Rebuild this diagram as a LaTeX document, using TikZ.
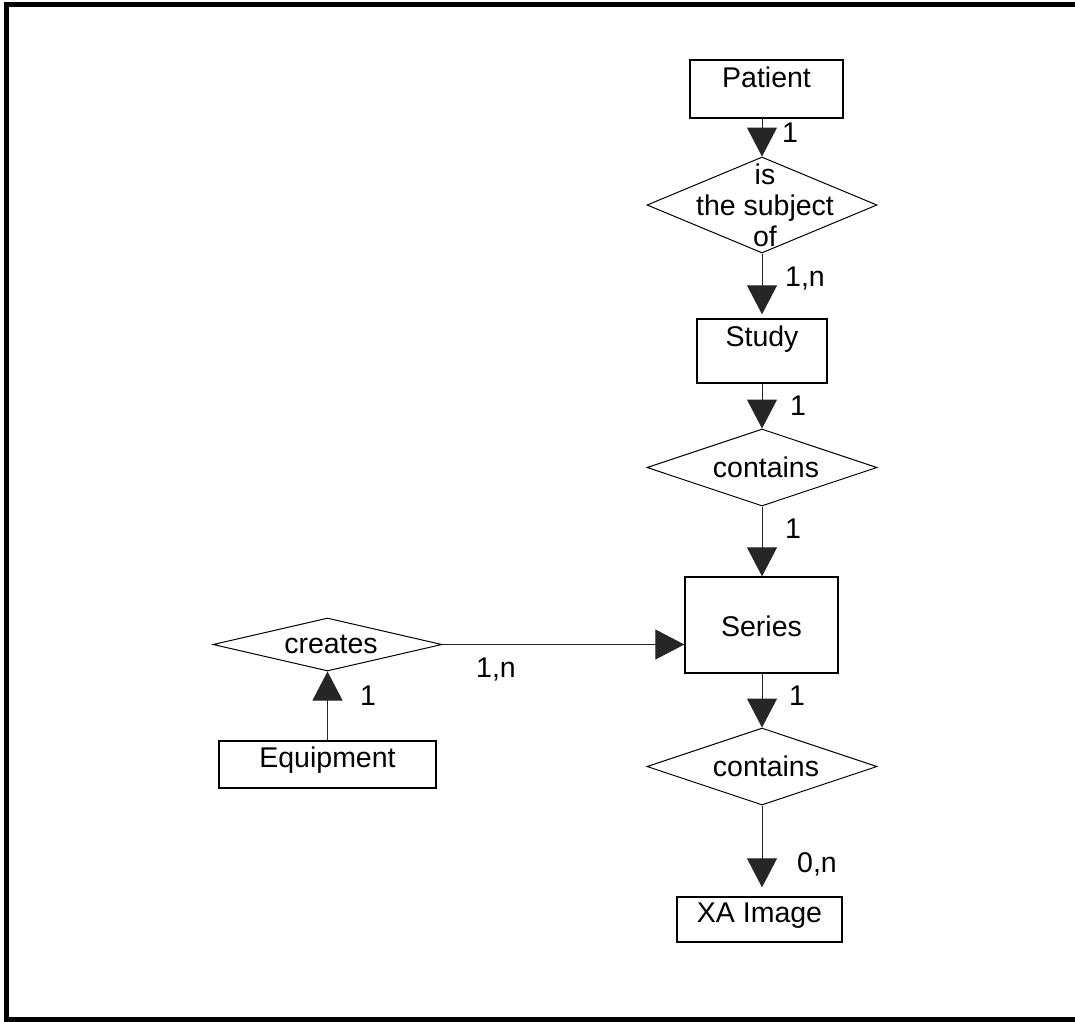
\documentclass[tikz,border=0pt]{standalone}
\usepackage{fontspec}
\setmainfont{Liberation Sans}
\usepackage{tikz}
\usetikzlibrary{arrows.meta,shapes.geometric,positioning}
\tikzstyle{ent} = [rectangle, draw=black, line width=1.4pt, inner sep=0pt, font=\fontsize{28.5}{31}\selectfont]
\tikzstyle{rel} = [diamond, draw=black, line width=1pt, inner sep=0pt, aspect=1]
\tikzstyle{txt} = [align=center, inner sep=0pt, font=\fontsize{28.5}{31}\selectfont]
\tikzstyle{lab} = [anchor=base, inner sep=0pt, font=\fontsize{28.5}{31}\selectfont]
\tikzstyle{arr} = [line width=1pt, draw=black!85, -{Triangle[width=30pt,length=29pt]}]

\begin{document}
\begin{tikzpicture}
		[
			x=1pt, y=-1pt,
		]

		\useasboundingbox (0,0) rectangle (1075,1021);
		\draw[line width=5pt] (1075,4.5) -- (6.5,4.5) -- (6.5,1019) -- (1075,1019);

		\node[ent, minimum width=153pt, minimum height=58pt, text height=27pt, text depth=31pt] (patient) at (766.5,89) {Patient};
		\node[rel, minimum width=230pt, minimum height=96pt] (subj) at (762,205) {};
		\node[txt] (subjt) at (765,205) {is\\the subject\\of};
		\node[ent, minimum width=130pt, minimum height=64pt, text height=27pt, text depth=37pt] (study) at (762,351) {Study};
		\node[rel, minimum width=230pt, minimum height=77pt] (cont1) at (762,467.5) {};
		\node[txt] (cont1t) at (766,467.5) {contains};
		\node[ent, minimum width=153pt, minimum height=96pt, text height=59pt, text depth=37pt] (series) at (761.5,625) {Series};
		\node[rel, minimum width=230pt, minimum height=77pt] (cont2) at (762,766.5) {};
		\node[txt] (cont2t) at (766,766.5) {contains};
		\node[ent, minimum width=165pt, minimum height=45pt, text height=25pt, text depth=20pt] (xa) at (759.5,919.5) {XA Image};
		\node[rel, minimum width=229pt, minimum height=53pt] (creates) at (327.5,644.5) {};
		\node[txt] (createst) at (331,644.5) {creates};
		\node[ent, minimum width=217pt, minimum height=47pt, text height=26pt, text depth=21pt] (equip) at (327.5,764.5) {Equipment};

		\draw[arr] (patient.south -| subj.north) -- (subj.north);
		\draw[arr, shorten >=4pt] (subj.south) -- (study.north);
		\draw[arr] (study.south) -- (cont1.north);
		\draw[arr] (cont1.south) -- (series.north -| cont1.south);
		\draw[arr] (series.south -| cont2.north) -- (cont2.north);
		\draw[arr, shorten >=9pt] (cont2.south) -- (xa.north -| cont2.south);
		\draw[arr] (creates.east) -- (creates.east -| series.west);
		\draw[arr] (equip.north -| creates.south) -- (creates.south);

		\node[lab] (c1) at (790,142) {1};
		\node[lab] (c2) at (805,286) {1,n};
		\node[lab] (c3) at (798,415) {1};
		\node[lab] (c4) at (793,538) {1};
		\node[lab] (c5) at (496,677) {1,n};
		\node[lab] (c6) at (368,705) {1};
		\node[lab] (c7) at (797,705) {1};
		\node[lab] (c8) at (817,872) {0,n};
	\end{tikzpicture}
\end{document}
